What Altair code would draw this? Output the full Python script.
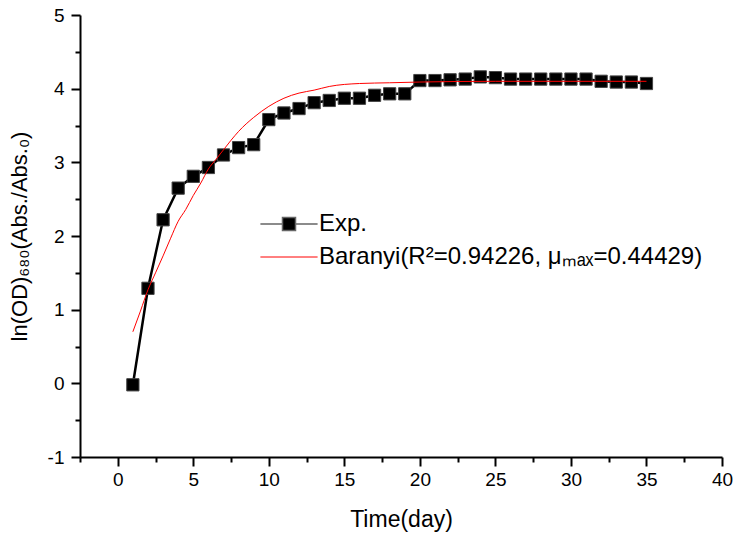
import altair as alt
import pandas as pd

# Experimental growth data: ln(OD680) ratio per day
days = list(range(1, 36))
ln_od = [-0.02, 1.29, 2.22, 2.65, 2.81, 2.93, 3.10, 3.20, 3.24, 3.58,
         3.67, 3.73, 3.81, 3.84, 3.87, 3.87, 3.91, 3.93, 3.93, 4.11,
         4.11, 4.12, 4.13, 4.16, 4.15, 4.13, 4.13, 4.13, 4.13, 4.13,
         4.13, 4.10, 4.09, 4.09, 4.07]

# Baranyi model fit curve
fit_days = [1, 1.5, 2, 2.5, 3, 3.5, 4, 4.5, 5, 5.5, 6, 6.5, 7, 7.5, 8,
            9, 10, 11, 12, 13, 14, 16, 18, 20, 25, 30, 35]
fit_vals = [0.70, 0.98, 1.27, 1.50, 1.73, 1.97, 2.20, 2.36, 2.55, 2.72,
            2.91, 3.04, 3.17, 3.30, 3.42, 3.61, 3.76, 3.87, 3.94, 3.98,
            4.03, 4.07, 4.08, 4.09, 4.10, 4.10, 4.10]

exp_name = "Exp."
fit_name = "Baranyi(R²=0.94226, μₘₐₓ=0.44429)"

x_tick_values = [-2.5, 0, 2.5, 5, 7.5, 10, 12.5, 15, 17.5, 20, 22.5, 25,
                 27.5, 30, 32.5, 35, 37.5, 40]
y_tick_values = [-1, -0.5, 0, 0.5, 1, 1.5, 2, 2.5, 3, 3.5, 4, 4.5, 5]

FONT = "Liberation Sans"

exp_df = pd.DataFrame({"day": days, "lnod": ln_od, "series": exp_name})
fit_df = pd.DataFrame({"day": fit_days, "lnod": fit_vals, "model": fit_name})

x_axis = alt.Axis(
    values=x_tick_values,
    title="Time(day)",
    labelExpr="datum.value % 5 === 0 ? '' + datum.value : ''",
    tickSize={"condition": {"test": "datum.value % 5 === 0", "value": 9}, "value": 5},
    grid=False,
    domainColor="black", domainWidth=2,
    tickColor="black", tickWidth=2,
    labelFont=FONT, labelFontSize=19, labelColor="black", labelPadding=4,
    labelFlush=False, labelOverlap=False,
    titleFont=FONT, titleFontSize=23, titleFontWeight="normal", titleColor="black",
    titleX=321, titleY=62, titleBaseline="middle",
)
y_axis = alt.Axis(
    values=y_tick_values,
    title="ln(OD)₆₈₀(Abs./Abs.₀)",
    labelExpr="datum.value % 1 === 0 ? '' + datum.value : ''",
    tickSize={"condition": {"test": "datum.value % 1 === 0", "value": 9}, "value": 5},
    grid=False,
    domainColor="black", domainWidth=2,
    tickColor="black", tickWidth=2,
    labelFont=FONT, labelFontSize=19, labelColor="black", labelPadding=7,
    labelFlush=False, labelOverlap=False,
    titleFont=FONT, titleFontSize=22, titleFontWeight="normal", titleColor="black",
    titleX=-61, titleY=221, titleBaseline="middle", titleAngle=270,
)

x_enc = alt.X("day:Q", scale=alt.Scale(domain=[-2.5, 40], nice=False, zero=False), axis=x_axis)
y_enc = alt.Y("lnod:Q", scale=alt.Scale(domain=[-1, 5], nice=False, zero=False), axis=y_axis)

exp_line = alt.Chart(exp_df).mark_line(color="black", strokeWidth=2.5).encode(x=x_enc, y=y_enc)

exp_points = alt.Chart(exp_df).mark_point(
    shape="square", filled=True, size=150, opacity=1, stroke="#444", strokeWidth=1
).encode(
    x=x_enc,
    y=y_enc,
    color=alt.Color(
        "series:N",
        scale=alt.Scale(domain=[exp_name], range=["black"]),
        legend=alt.Legend(
            title=None, orient="none", legendX=197, legendY=197, padding=0,
            symbolType="M-4.4,0H-1M1,0H4.4M-1,-1H1V1H-1Z", symbolSize=169,
            symbolStrokeColor="#666", symbolStrokeWidth=1.5,
            labelFont=FONT, labelFontSize=24, labelColor="black", labelOffset=18,
        ),
    ),
)

fit_line = alt.Chart(fit_df).mark_line(strokeWidth=1, interpolate="monotone").encode(
    x=x_enc,
    y=y_enc,
    stroke=alt.Stroke(
        "model:N",
        scale=alt.Scale(domain=[fit_name], range=["#ff0000"]),
        legend=alt.Legend(
            title=None, orient="none", legendX=197, legendY=230, padding=0,
            symbolType="M-4.4,0H4.4", symbolSize=169, symbolStrokeWidth=1,
            labelFont=FONT, labelFontSize=24, labelColor="black", labelOffset=18,
            labelLimit=0,
        ),
    ),
)

chart = alt.layer(exp_line, exp_points, fit_line).properties(
    width=642,
    height=442,
    padding={"left": 80, "top": 15, "right": 13, "bottom": 76},
    autosize=alt.AutoSizeParams(type="none"),
    background="white",
).configure_view(stroke=None)

chart.save("out.html", embed_options={"renderer": "svg", "actions": False})
